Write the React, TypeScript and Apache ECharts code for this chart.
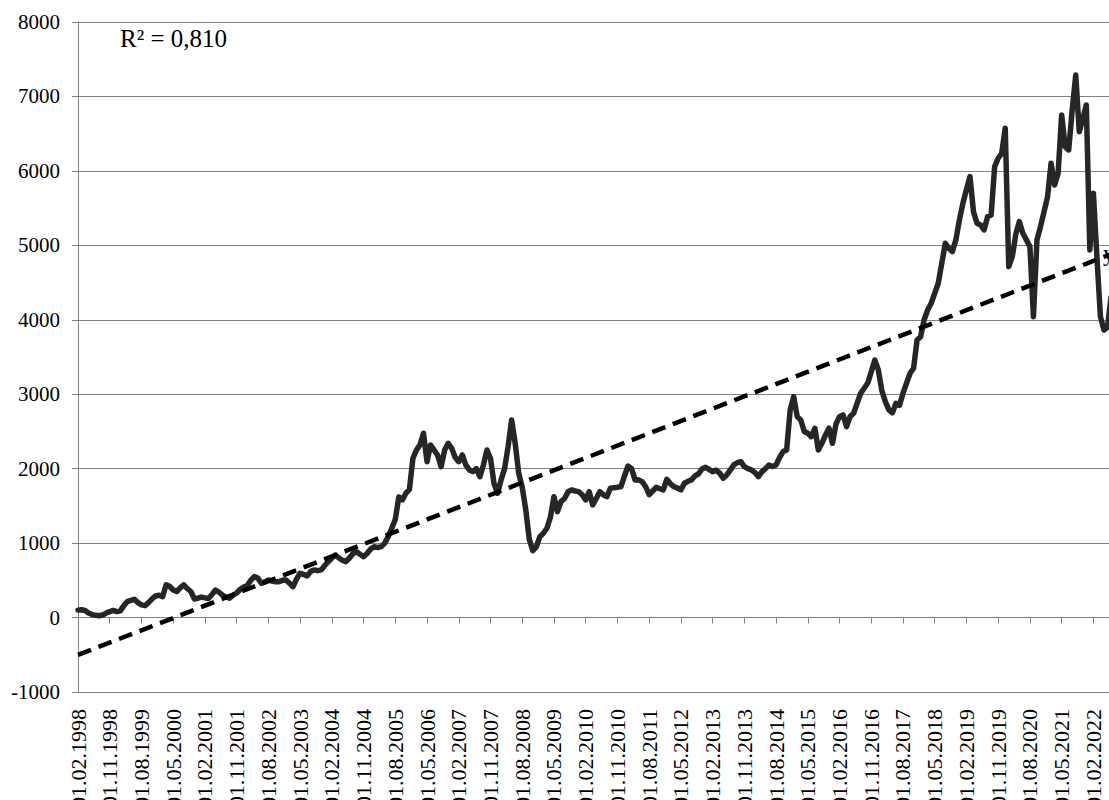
import React, { useEffect, useRef } from "react";
import * as echarts from "echarts";

// Monthly values, first value = 01.02.1998
const startYear = 1998;
const startMonth = 2;
const y1998 = [100, 105, 95, 60, 40, 30, 25, 35, 60, 80, 95];
const y1999 = [80, 90, 160, 215, 230, 245, 200, 170, 160, 200, 250, 290];
const y2000 = [300, 280, 440, 420, 370, 350, 400, 440, 390, 350, 250, 260];
const y2001 = [275, 265, 255, 310, 370, 340, 300, 275, 260, 300, 330, 380];
const y2002 = [410, 430, 500, 550, 530, 460, 480, 505, 490, 480, 482, 500];
const y2003 = [505, 460, 415, 520, 595, 580, 560, 620, 640, 630, 640, 700];
const y2004 = [750, 800, 840, 800, 770, 751, 800, 860, 885, 850, 818, 860];
const y2005 = [920, 952, 940, 952, 1000, 1087, 1200, 1320, 1620, 1580, 1670, 1720];
const y2006 = [2140, 2250, 2320, 2476, 2094, 2318, 2251, 2180, 2027, 2250, 2341, 2274];
const y2007 = [2150, 2094, 2184, 2050, 1983, 1960, 2000, 1893, 2050, 2251, 2140, 1800];
const y2008 = [1670, 1849, 2000, 2300, 2654, 2341, 1938, 1750, 1450, 1050, 900, 950];
const y2009 = [1087, 1132, 1200, 1350, 1624, 1423, 1557, 1600, 1690, 1714, 1700, 1691];
const y2010 = [1650, 1580, 1691, 1513, 1600, 1691, 1650, 1624, 1737, 1745, 1750, 1759];
const y2011 = [1900, 2036, 2000, 1849, 1850, 1826, 1760, 1650, 1700, 1750, 1730, 1714];
const y2012 = [1858, 1800, 1759, 1740, 1714, 1804, 1830, 1849, 1902, 1930, 1996, 2019];
const y2013 = [1990, 1960, 1980, 1940, 1871, 1916, 1980, 2050, 2080, 2094, 2027, 2000];
const y2014 = [1983, 1950, 1893, 1960, 2000, 2050, 2030, 2050, 2150, 2229, 2251, 2789];
const y2015 = [2968, 2699, 2654, 2500, 2476, 2430, 2543, 2251, 2341, 2450, 2543, 2341];
const y2016 = [2600, 2699, 2722, 2565, 2700, 2744, 2879, 3013, 3080, 3150, 3300, 3460];
const y2017 = [3326, 3050, 2900, 2789, 2750, 2879, 2850, 3013, 3147, 3281, 3349, 3729];
const y2018 = [3773, 4000, 4132, 4222, 4356, 4491, 4759, 5028, 4961, 4916, 5073, 5341];
const y2019 = [5566, 5750, 5923, 5450, 5297, 5274, 5207, 5386, 5408, 6057, 6170, 6237];
const y2020 = [6573, 4714, 4849, 5150, 5319, 5163, 5073, 4983, 4042, 5073, 5250, 5450];
const y2021 = [5650, 6103, 5811, 5968, 6752, 6326, 6282, 6819, 7289, 6527, 6700, 6886];
const y2022 = [4938, 5700, 4849, 4042, 3863, 3900, 4300];

const values = [
  ...y1998, ...y1999, ...y2000, ...y2001, ...y2002, ...y2003, ...y2004, ...y2005,
  ...y2006, ...y2007, ...y2008, ...y2009, ...y2010, ...y2011, ...y2012, ...y2013,
  ...y2014, ...y2015, ...y2016, ...y2017, ...y2018, ...y2019, ...y2020, ...y2021, ...y2022,
];

const categories = values.map((_, i) => {
  const m = startMonth - 1 + i;
  const yy = startYear + Math.floor(m / 12);
  const mm = (m % 12) + 1;
  return `01.${String(mm).padStart(2, "0")}.${yy}`;
});

const yMin = -1000;
const yMax = 8000;
const yStep = 1000;
const labelEvery = 9;

// Linear trend line end values
const trendStart = -502;
const trendEnd = 4882;
const r2Text = "R² = 0,810";
const trendText = "y = 18,376x - 520,4";

const FONT = '"Liberation Serif", "Times New Roman", serif';
const GRID = "#828282";

export default function App() {
  const ref = useRef<HTMLDivElement>(null);
  useEffect(() => {
    if (!ref.current) return;
    const chart = echarts.init(ref.current, undefined, { renderer: "svg" });
    chart.setOption({
      animation: false,
      backgroundColor: "#ffffff",
      grid: {
        left: 78,
        top: 22,
        right: -2,
        bottom: 108,
        containLabel: false,
        outerBoundsMode: "none",
      },
      xAxis: [
        {
          type: "category",
          data: categories,
          boundaryGap: false,
          position: "bottom",
          axisLine: { show: true, onZero: false, lineStyle: { color: GRID, width: 1 } },
          axisTick: { show: false },
          axisLabel: {
            interval: labelEvery - 1,
            rotate: 90,
            margin: 17,
            fontFamily: FONT,
            fontSize: 22,
            color: "#000",
          },
          splitLine: { show: false },
        },
        {
          type: "category",
          data: categories,
          boundaryGap: false,
          position: "bottom",
          axisLine: { show: true, onZero: true, lineStyle: { color: GRID, width: 1 } },
          axisTick: { show: true, interval: labelEvery - 1, length: 6, lineStyle: { color: GRID } },
          axisLabel: { show: false },
          splitLine: { show: false },
        },
      ],
      yAxis: {
        type: "value",
        min: yMin,
        max: yMax,
        interval: yStep,
        axisLine: { show: true, lineStyle: { color: GRID, width: 1 } },
        axisTick: { show: true, length: 6, lineStyle: { color: GRID } },
        axisLabel: {
          margin: 18,
          fontFamily: FONT,
          fontSize: 21,
          color: "#000",
          formatter: (v: number) => String(v),
        },
        splitLine: { show: true, lineStyle: { color: GRID, width: 1 } },
      },
      series: [
        {
          type: "line",
          data: values,
          xAxisIndex: 0,
          symbol: "none",
          lineStyle: { color: "#262626", width: 5.5, join: "round", cap: "round" },
          z: 3,
        },
        {
          type: "line",
          data: [
            [categories[0], trendStart],
            [categories[categories.length - 1], trendEnd],
          ],
          xAxisIndex: 0,
          symbol: "none",
          lineStyle: { color: "#000", width: 4.5, type: [14, 8], cap: "butt" },
          z: 4,
        },
      ],
      graphic: [
        {
          type: "text",
          left: 120,
          top: 26,
          style: { text: r2Text, font: `25px ${FONT}`, fill: "#000" },
        },
        {
          type: "text",
          left: 1103,
          top: 242,
          style: { text: trendText, font: `23px ${FONT}`, fill: "#000" },
        },
      ],
    });
    return () => chart.dispose();
  }, []);
  return (
    <div
      ref={ref}
      style={{ position: "fixed", left: 0, top: 0, width: 1109, height: 800, background: "#fff" }}
    />
  );
}
